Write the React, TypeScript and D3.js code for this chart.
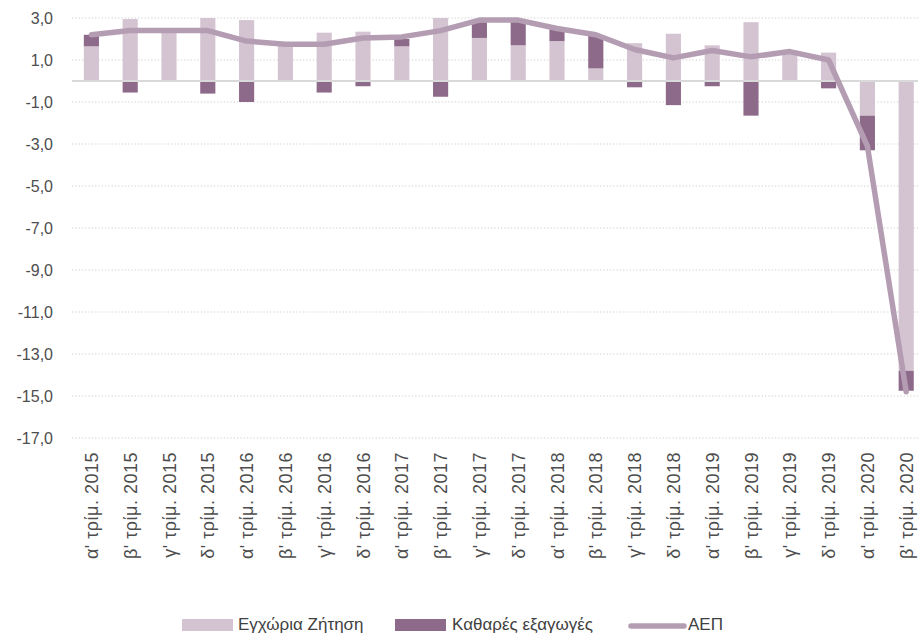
import React from 'react';
import * as d3 from 'd3';

const categories = [
  "α' τρίμ. 2015", "β' τρίμ. 2015", "γ' τρίμ. 2015", "δ' τρίμ. 2015",
  "α' τρίμ. 2016", "β' τρίμ. 2016", "γ' τρίμ. 2016", "δ' τρίμ. 2016",
  "α' τρίμ. 2017", "β' τρίμ. 2017", "γ' τρίμ. 2017", "δ' τρίμ. 2017",
  "α' τρίμ. 2018", "β' τρίμ. 2018", "γ' τρίμ. 2018", "δ' τρίμ. 2018",
  "α' τρίμ. 2019", "β' τρίμ. 2019", "γ' τρίμ. 2019", "δ' τρίμ. 2019",
  "α' τρίμ. 2020", "β' τρίμ. 2020",
];

// Εγχώρια Ζήτηση
const domestic = [1.65, 2.95, 2.35, 3.0, 2.9, 1.7, 2.3, 2.35, 1.65, 3.0, 2.05, 1.7, 1.9, 0.6, 1.8, 2.25, 1.7, 2.8, 1.35, 1.35, -1.65, -13.8];
// Καθαρές εξαγωγές
const netExports = [0.55, -0.55, 0, -0.6, -1.0, 0.05, -0.55, -0.25, 0.35, -0.75, 0.75, 1.2, 0.55, 1.55, -0.3, -1.15, -0.25, -1.65, 0, -0.35, -1.65, -0.95];
// ΑΕΠ
const gdp = [2.2, 2.4, 2.4, 2.4, 1.9, 1.75, 1.75, 2.05, 2.1, 2.4, 2.9, 2.9, 2.5, 2.2, 1.5, 1.1, 1.45, 1.15, 1.4, 1.0, -3.1, -14.8];

const yTicks = [3, 1, -1, -3, -5, -7, -9, -11, -13, -15, -17];

const LIGHT = '#d4c4d2';
const DARK = '#8e6a8a';
const LINE = '#b49db3';

export default function App() {
  const width = 918;
  const height = 639;
  const plotLeft = 72;
  const plotRight = 918;

  const x = d3.scaleBand<string>()
    .domain(categories)
    .range([plotLeft, 925.6])
    .paddingInner(0.61)
    .paddingOuter(0.305);

  const y = d3.scaleLinear().domain([-17, 3]).range([438, 18]);

  const rows = categories.map((c, i) => ({ cat: c, dom: domestic[i], net: netExports[i] }));
  const series = d3.stack<any>()
    .keys(['dom', 'net'])
    .offset(d3.stackOffsetDiverging)(rows);
  const colors = [LIGHT, DARK];

  const cx = (c: string) => (x(c) as number) + x.bandwidth() / 2;

  const line = d3.line<number>()
    .x((_, i) => cx(categories[i]))
    .y(d => y(d));

  const font = '"Liberation Sans", Arial, sans-serif';
  const narrow = '"Liberation Sans Narrow", "Arial Narrow", sans-serif';

  return (
    <svg width={width} height={height} style={{ position: 'absolute', left: 0, top: 0, background: '#fff' }}>
      {/* grid */}
      {yTicks.map(t => (
        <line key={t} x1={plotLeft} x2={plotRight} y1={y(t)} y2={y(t)}
          stroke="#d0d0d0" strokeWidth={1.2} strokeDasharray="1.3 2" />
      ))}
      {/* y labels */}
      {yTicks.map(t => (
        <text key={'l' + t} x={53} y={y(t) + 5.5} textAnchor="end" fontFamily={font}
          fontSize={16} fill="#4d4d4d">
          {d3.format('.1f')(t).replace('.', ',').replace('−', '-')}
        </text>
      ))}
      {/* bars */}
      {series.map((s, si) => (
        <g key={s.key} fill={colors[si]}>
          {s.map((d, i) => (
            <rect key={i} x={x(categories[i])} width={x.bandwidth()}
              y={y(Math.max(d[0], d[1]))} height={Math.abs(y(d[0]) - y(d[1]))} />
          ))}
        </g>
      ))}
      {/* zero line */}
      <line x1={plotLeft} x2={plotRight} y1={y(0)} y2={y(0)} stroke="#d9d9d9" strokeWidth={2} />
      {/* GDP line */}
      <path d={line(gdp) || ''} fill="none" stroke={LINE} strokeWidth={5.5}
        strokeLinejoin="round" strokeLinecap="round" />
      {/* x labels */}
      {categories.map(c => (
        <text key={c} transform={`translate(${cx(c) + 6.5},452) rotate(-90)`} textAnchor="end"
          fontFamily={narrow} fontSize={18} fill="#4d4d4d" letterSpacing={0.5}>
          {c}
        </text>
      ))}
      {/* legend */}
      <g fontFamily={narrow} fontSize={17} fill="#404040">
        <rect x={182} y={619} width={51} height={12} fill={LIGHT} />
        <text x={238} y={630}>Εγχώρια Ζήτηση</text>
        <rect x={395} y={619} width={51} height={12} fill={DARK} />
        <text x={452} y={630}>Καθαρές εξαγωγές</text>
        <line x1={631} x2={684} y1={626} y2={626} stroke={LINE} strokeWidth={5.5} strokeLinecap="round" />
        <text x={688} y={630}>ΑΕΠ</text>
      </g>
    </svg>
  );
}
